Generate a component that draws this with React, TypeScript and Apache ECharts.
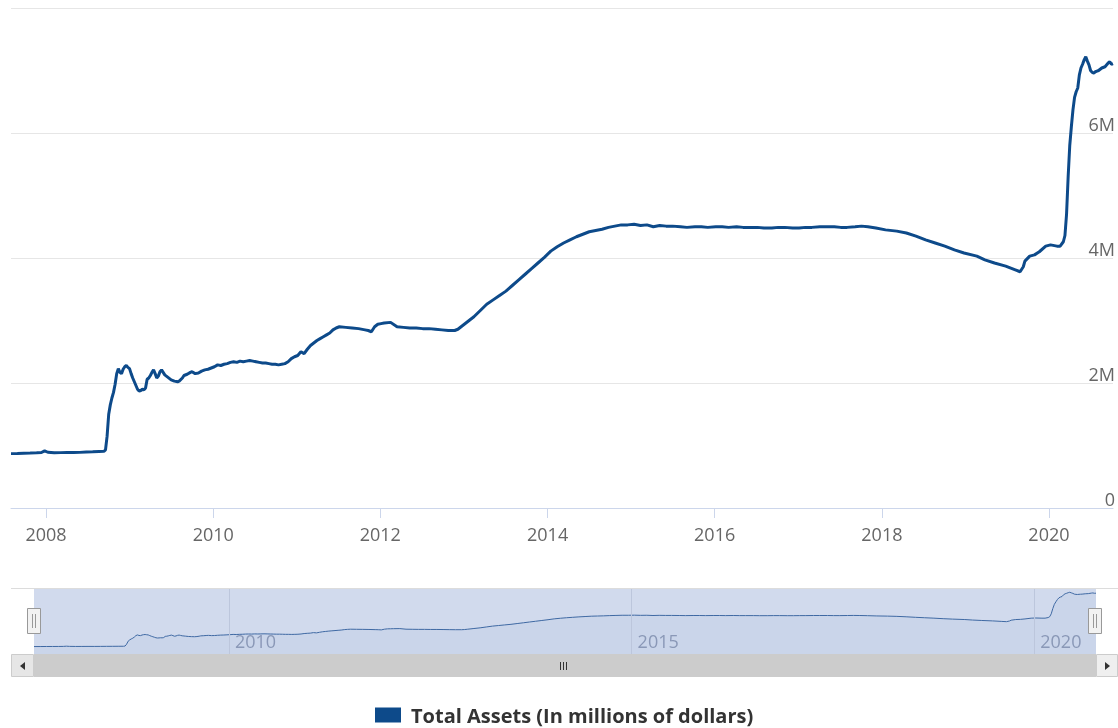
import React, { useEffect, useRef } from "react";
import * as echarts from "echarts";

const seriesName = "Total Assets (In millions of dollars)";

const dates: string[] = [
  "2007-08-01", "2007-08-29", "2007-09-26", "2007-10-24", "2007-11-21", "2007-12-12", "2007-12-26",
  "2008-01-09", "2008-02-06", "2008-03-05", "2008-04-02", "2008-04-30", "2008-05-28", "2008-06-25",
  "2008-07-23", "2008-08-20", "2008-09-10", "2008-09-17", "2008-09-24", "2008-10-01", "2008-10-08",
  "2008-10-15", "2008-10-22", "2008-10-29", "2008-11-05", "2008-11-12", "2008-11-19", "2008-11-26",
  "2008-12-03", "2008-12-10", "2008-12-17", "2008-12-24", "2008-12-31", "2009-01-07", "2009-01-14",
  "2009-01-21", "2009-01-28", "2009-02-04", "2009-02-11", "2009-02-18", "2009-02-25", "2009-03-04",
  "2009-03-11", "2009-03-18", "2009-03-25", "2009-04-01", "2009-04-08", "2009-04-15", "2009-04-22",
  "2009-04-29", "2009-05-06", "2009-05-13", "2009-05-20", "2009-05-27", "2009-06-03", "2009-06-17",
  "2009-07-01", "2009-07-15", "2009-07-29", "2009-08-05", "2009-08-19", "2009-08-26", "2009-09-09",
  "2009-09-23", "2009-09-30", "2009-10-14", "2009-10-28", "2009-11-11", "2009-11-25", "2009-12-09",
  "2009-12-23", "2010-01-06", "2010-01-20", "2010-02-03", "2010-02-17", "2010-03-03", "2010-03-17",
  "2010-03-31", "2010-04-14", "2010-04-28", "2010-05-12", "2010-05-26", "2010-06-09", "2010-06-23",
  "2010-07-07", "2010-07-21", "2010-08-04", "2010-08-18", "2010-09-01", "2010-09-15", "2010-09-29",
  "2010-10-13", "2010-10-27", "2010-11-10", "2010-11-24", "2010-12-08", "2010-12-22", "2011-01-05",
  "2011-01-19", "2011-02-02", "2011-02-16", "2011-03-02", "2011-03-16", "2011-03-30", "2011-04-13",
  "2011-04-27", "2011-05-11", "2011-05-25", "2011-06-08", "2011-06-22", "2011-07-06", "2011-08-03",
  "2011-08-31", "2011-09-28", "2011-10-26", "2011-11-09", "2011-11-23", "2011-12-07", "2011-12-21",
  "2012-01-04", "2012-01-18", "2012-02-15", "2012-03-14", "2012-04-11", "2012-05-09", "2012-06-06",
  "2012-07-04", "2012-08-01", "2012-08-29", "2012-09-26", "2012-10-24", "2012-11-21", "2012-12-05",
  "2012-12-19", "2013-01-16", "2013-02-13", "2013-03-13", "2013-04-10", "2013-05-08", "2013-06-05",
  "2013-07-03", "2013-07-31", "2013-08-28", "2013-09-25", "2013-10-23", "2013-11-20", "2013-12-18",
  "2014-01-15", "2014-02-12", "2014-03-12", "2014-04-09", "2014-05-07", "2014-06-04", "2014-07-02",
  "2014-07-30", "2014-08-27", "2014-09-24", "2014-10-22", "2014-11-19", "2014-12-17", "2015-01-14",
  "2015-02-11", "2015-03-11", "2015-04-08", "2015-05-06", "2015-06-03", "2015-07-01", "2015-08-05",
  "2015-09-02", "2015-10-07", "2015-11-04", "2015-12-02", "2016-01-06", "2016-02-03", "2016-03-02",
  "2016-04-06", "2016-05-04", "2016-06-01", "2016-07-06", "2016-08-03", "2016-09-07", "2016-10-05",
  "2016-11-02", "2016-12-07", "2017-01-04", "2017-02-01", "2017-03-01", "2017-04-05", "2017-05-03",
  "2017-06-07", "2017-07-05", "2017-08-02", "2017-09-06", "2017-10-04", "2017-11-01", "2017-12-06",
  "2018-01-17", "2018-03-07", "2018-04-18", "2018-05-30", "2018-07-11", "2018-08-22", "2018-10-03",
  "2018-11-14", "2018-12-26", "2019-02-20", "2019-03-27", "2019-05-08", "2019-06-26", "2019-08-07",
  "2019-08-28", "2019-09-11", "2019-09-18", "2019-10-09", "2019-10-30", "2019-11-20", "2019-12-18",
  "2020-01-08", "2020-02-05", "2020-02-19", "2020-03-04", "2020-03-11", "2020-03-18", "2020-03-25",
  "2020-04-01", "2020-04-08", "2020-04-15", "2020-04-22", "2020-04-29", "2020-05-06", "2020-05-13",
  "2020-05-20", "2020-05-27", "2020-06-03", "2020-06-10", "2020-06-17", "2020-06-24", "2020-07-01",
  "2020-07-08", "2020-07-15", "2020-07-22", "2020-07-29", "2020-08-05", "2020-08-19", "2020-09-02",
  "2020-09-16", "2020-09-23", "2020-09-30", "2020-10-07",
];

const values: number[] = [
  870000, 872000, 877000, 880000, 884000, 888000, 915000,
  892000, 884000, 886000, 889000, 887000, 890000, 896000,
  900000, 905000, 907000, 930000, 1150000, 1500000, 1650000,
  1760000, 1850000, 1980000, 2150000, 2230000, 2170000, 2150000,
  2220000, 2260000, 2280000, 2250000, 2230000, 2150000, 2080000,
  2020000, 1960000, 1900000, 1870000, 1880000, 1900000, 1890000,
  1920000, 2060000, 2080000, 2120000, 2170000, 2210000, 2150000,
  2080000, 2110000, 2180000, 2210000, 2170000, 2130000, 2090000,
  2050000, 2030000, 2020000, 2030000, 2080000, 2120000, 2140000,
  2170000, 2180000, 2150000, 2160000, 2190000, 2210000, 2220000,
  2240000, 2260000, 2290000, 2280000, 2300000, 2310000, 2330000,
  2340000, 2330000, 2350000, 2340000, 2350000, 2360000, 2350000,
  2340000, 2330000, 2320000, 2320000, 2310000, 2300000, 2300000,
  2290000, 2300000, 2310000, 2340000, 2390000, 2420000, 2440000,
  2500000, 2470000, 2540000, 2600000, 2640000, 2680000, 2710000,
  2740000, 2770000, 2800000, 2850000, 2880000, 2900000, 2890000,
  2880000, 2870000, 2850000, 2840000, 2820000, 2900000, 2940000,
  2950000, 2960000, 2970000, 2900000, 2890000, 2880000, 2880000,
  2870000, 2870000, 2860000, 2850000, 2840000, 2840000, 2860000,
  2900000, 2980000, 3060000, 3160000, 3260000, 3330000, 3400000,
  3470000, 3560000, 3650000, 3740000, 3830000, 3920000, 4010000,
  4110000, 4180000, 4240000, 4290000, 4340000, 4380000, 4420000,
  4440000, 4460000, 4490000, 4510000, 4530000, 4530000, 4540000,
  4520000, 4530000, 4500000, 4520000, 4510000, 4510000, 4500000,
  4490000, 4500000, 4500000, 4490000, 4500000, 4500000, 4490000,
  4500000, 4490000, 4490000, 4490000, 4480000, 4480000, 4490000,
  4490000, 4480000, 4480000, 4490000, 4490000, 4500000, 4500000,
  4500000, 4490000, 4490000, 4500000, 4510000, 4500000, 4480000,
  4450000, 4430000, 4400000, 4350000, 4290000, 4240000, 4190000,
  4130000, 4080000, 4030000, 3970000, 3920000, 3870000, 3810000,
  3780000, 3860000, 3950000, 4030000, 4050000, 4100000, 4190000,
  4210000, 4190000, 4190000, 4260000, 4360000, 4700000, 5300000,
  5800000, 6100000, 6370000, 6570000, 6660000, 6720000, 6930000,
  7040000, 7100000, 7170000, 7220000, 7150000, 7090000, 7000000,
  6970000, 6960000, 6980000, 6990000, 7000000, 7040000, 7060000,
  7120000, 7140000, 7100000, 7110000,
];

const yTicks: number[] = [0, 2000000, 4000000, 6000000, 8000000];
const mainYearTicks: number[] = [2008, 2010, 2012, 2014, 2016, 2018, 2020];
const navYearTicks: number[] = [2010, 2015, 2020];

const toTs = (s: string) => {
  const [y, m, d] = s.split("-").map(Number);
  return Date.UTC(y, m - 1, d);
};

export default function App() {
  const ref = useRef<HTMLDivElement>(null);

  useEffect(() => {
    if (!ref.current) return;
    const chart = echarts.init(ref.current, undefined, { renderer: "svg" });
    const data = dates.map((d, i) => [toTs(d), values[i]]);
    const minT = toTs(dates[0]);
    const maxT = toTs(dates[dates.length - 1]);
    const mainTicks = mainYearTicks.map((y) => Date.UTC(y, 0, 1));
    const navTicks = navYearTicks.map((y) => Date.UTC(y, 0, 1));
    const font = "Open Sans";
    const lineColor = "#0d4a8a";
    const yearFmt = (v: number) => String(new Date(v).getUTCFullYear());

    const gripLines = [-3, 0, 3].map((dx) => ({
      type: "line",
      z: 100,
      shape: { x1: 563.5 + dx, y1: 662, x2: 563.5 + dx, y2: 670 },
      style: { stroke: "#333", lineWidth: 1 },
    }));

    const handle = (cx: number) => [
      {
        type: "rect",
        z: 100,
        shape: { x: cx - 6.5, y: 608.5, width: 13, height: 25 },
        style: { fill: "#f2f2f2", stroke: "#999", lineWidth: 1 },
      },
      {
        type: "line",
        z: 101,
        shape: { x1: cx - 1.5, y1: 614, x2: cx - 1.5, y2: 628 },
        style: { stroke: "#999", lineWidth: 1 },
      },
      {
        type: "line",
        z: 101,
        shape: { x1: cx + 1.5, y1: 614, x2: cx + 1.5, y2: 628 },
        style: { stroke: "#999", lineWidth: 1 },
      },
    ];

    chart.setOption({
      animation: false,
      textStyle: { fontFamily: font },
      grid: [
        { left: 11, right: 0, top: 8, height: 500 },
        {
          left: 34,
          right: 22,
          top: 589,
          height: 65,
          show: true,
          backgroundColor: "rgba(102,133,194,0.3)",
          borderWidth: 0,
        },
      ],
      xAxis: [
        {
          type: "value",
          gridIndex: 0,
          min: minT,
          max: maxT,
          axisLine: { show: true, lineStyle: { color: "#ccd6eb", width: 1 } },
          axisTick: {
            show: true,
            length: 10,
            customValues: mainTicks,
            lineStyle: { color: "#ccd6eb" },
          },
          axisLabel: {
            customValues: mainTicks,
            formatter: yearFmt,
            color: "#666",
            fontSize: 18,
            margin: 17,
            fontFamily: font,
          },
          splitLine: { show: false },
        },
        {
          type: "value",
          gridIndex: 1,
          min: minT,
          max: maxT,
          axisLine: { show: false },
          axisTick: { show: false, customValues: navTicks },
          axisLabel: {
            customValues: navTicks,
            inside: true,
            formatter: yearFmt,
            color: "#8e9bb8",
            fontSize: 18,
            align: "left",
            margin: 4,
            padding: [0, 0, 0, 6],
            fontFamily: font,
          },
          splitLine: { show: false },
        },
      ],
      yAxis: [
        {
          type: "value",
          gridIndex: 0,
          position: "right",
          min: yTicks[0],
          max: yTicks[yTicks.length - 1],
          interval: yTicks[1] - yTicks[0],
          axisLine: { show: false },
          axisTick: { show: false },
          splitLine: { lineStyle: { color: "#e6e6e6", width: 1 } },
          axisLabel: {
            inside: true,
            margin: -2,
            align: "right",
            verticalAlign: "bottom",
            padding: [0, 0, 0, 0],
            color: "#666",
            fontSize: 18,
            fontFamily: font,
            formatter: (v: number) =>
              v === 0 ? "0" : v === yTicks[yTicks.length - 1] ? "" : v / 1000000 + "M",
          },
        },
        {
          type: "value",
          gridIndex: 1,
          min: 0,
          max: 7600000,
          show: false,
          splitLine: { show: false },
        },
      ],
      legend: {
        data: [{ name: seriesName, icon: "rect" }],
        top: 704,
        left: 375,
        padding: 0,
        itemWidth: 26,
        itemHeight: 15,
        selectedMode: false,
        textStyle: {
          fontSize: 20,
          lineHeight: 22,
          fontWeight: "bold",
          color: "#333",
          fontFamily: font,
          padding: [0, 0, 0, 5],
        },
      },
      series: [
        {
          type: "line",
          name: seriesName,
          xAxisIndex: 0,
          yAxisIndex: 0,
          data,
          symbol: "none",
          showSymbol: false,
          lineStyle: { color: lineColor, width: 3 },
          itemStyle: { color: lineColor },
          z: 3,
        },
        {
          type: "line",
          name: "navigator",
          xAxisIndex: 1,
          yAxisIndex: 1,
          data,
          symbol: "none",
          showSymbol: false,
          silent: true,
          lineStyle: { color: "#3f69a3", width: 1 },
          areaStyle: { color: "rgba(69,114,167,0.07)" },
          z: 3,
          markLine: {
            silent: true,
            symbol: "none",
            label: { show: false },
            lineStyle: { color: "#bcc6dc", width: 1, type: "solid" },
            data: navTicks.map((t) => ({ xAxis: t })),
          },
        },
      ],
      graphic: [
        {
          type: "line",
          z: 100,
          shape: { x1: 11, y1: 588.5, x2: 1118, y2: 588.5 },
          style: { stroke: "#dcdcdc", lineWidth: 1 },
        },
        {
          type: "rect",
          z: 90,
          shape: { x: 34, y: 654, width: 1062, height: 23 },
          style: { fill: "#cccccc" },
        },
        {
          type: "rect",
          z: 90,
          shape: { x: 11.5, y: 654.5, width: 22, height: 22 },
          style: { fill: "#e6e6e6", stroke: "#cccccc", lineWidth: 1 },
        },
        {
          type: "polygon",
          z: 91,
          shape: { points: [[25, 662], [25, 670], [20, 666]] },
          style: { fill: "#333" },
        },
        {
          type: "rect",
          z: 90,
          shape: { x: 1096.5, y: 654.5, width: 21, height: 22 },
          style: { fill: "#efefef", stroke: "#cccccc", lineWidth: 1 },
        },
        {
          type: "polygon",
          z: 91,
          shape: { points: [[1105, 662], [1105, 670], [1110, 666]] },
          style: { fill: "#333" },
        },
        ...gripLines,
        ...handle(34),
        ...handle(1095),
      ],
    });

    return () => chart.dispose();
  }, []);

  return (
    <div
      ref={ref}
      style={{ position: "fixed", left: 0, top: 0, width: 1118, height: 728 }}
    />
  );
}
